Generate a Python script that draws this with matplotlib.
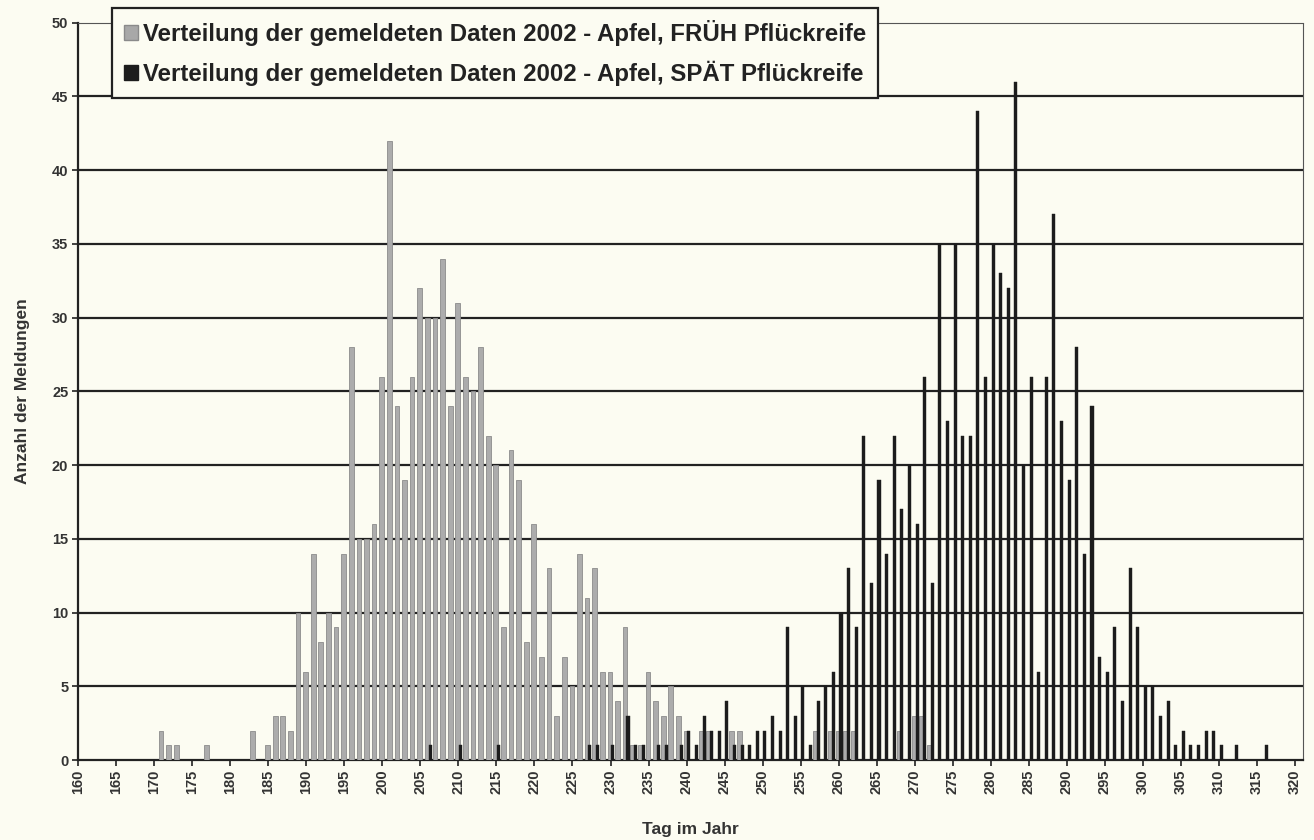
import matplotlib.pyplot as plt
from matplotlib.patches import Patch

# days and counts, early picking maturity (grey)
frueh_tage = [171, 172, 173, 177, 183, 185, 186, 187, 188, 189, 190, 191, 192, 193, 194,
              195, 196, 197, 198, 199, 200, 201, 202, 203, 204, 205, 206, 207, 208, 209,
              210, 211, 212, 213, 214, 215, 216, 217, 218, 219, 220, 221, 222, 223, 224,
              225, 226, 227, 228, 229, 230, 231, 232, 233, 234, 235, 236, 237, 238, 239,
              240, 242, 243, 246, 247, 257, 259, 260, 261, 262, 268, 270, 271, 272]
frueh_werte = [2, 1, 1, 1, 2, 1, 3, 3, 2, 10, 6, 14, 8, 10, 9,
               14, 28, 15, 15, 16, 26, 42, 24, 19, 26, 32, 30, 30, 34, 24,
               31, 26, 25, 28, 22, 20, 9, 21, 19, 8, 16, 7, 13, 3, 7,
               5, 14, 11, 13, 6, 6, 4, 9, 1, 1, 6, 4, 3, 5, 3,
               2, 2, 2, 2, 2, 2, 2, 2, 2, 2, 2, 3, 3, 1]

# days and counts, late picking maturity (black)
spaet_tage = [206, 210, 215, 227, 228, 230, 232, 233, 234, 236, 237, 239, 240, 241, 242,
              243, 244, 245, 246, 247, 248, 249, 250, 251, 252, 253, 254, 255, 256, 257,
              258, 259, 260, 261, 262, 263, 264, 265, 266, 267, 268, 269, 270, 271, 272,
              273, 274, 275, 276, 277, 278, 279, 280, 281, 282, 283, 284, 285, 286, 287,
              288, 289, 290, 291, 292, 293, 294, 295, 296, 297, 298, 299, 300, 301, 302,
              303, 304, 305, 306, 307, 308, 309, 310, 312, 316]
spaet_werte = [1, 1, 1, 1, 1, 1, 3, 1, 1, 1, 1, 1, 2, 1, 3,
               2, 2, 4, 1, 1, 1, 2, 2, 3, 2, 9, 3, 5, 1, 4,
               5, 6, 10, 13, 9, 22, 12, 19, 14, 22, 17, 20, 16, 26, 12,
               35, 23, 35, 22, 22, 44, 26, 35, 33, 32, 46, 20, 26, 6, 26,
               37, 23, 19, 28, 14, 24, 7, 6, 9, 4, 13, 9, 5, 5, 3,
               4, 1, 2, 1, 1, 2, 2, 1, 1, 1]

x_ticks = list(range(160, 321, 5))
y_ticks = list(range(0, 51, 5))

label_frueh = "Verteilung der gemeldeten Daten 2002 - Apfel, FRÜH Pflückreife"
label_spaet = "Verteilung der gemeldeten Daten 2002 - Apfel, SPÄT Pflückreife"

bg = "#fcfcf2"
schrift = ["Liberation Sans", "DejaVu Sans"]

fig = plt.figure(figsize=(13.14, 8.4), dpi=100, facecolor=bg)
ax = fig.add_axes([0.0594, 0.0952, 0.932, 0.8777])
ax.set_facecolor(bg)

ax.bar([d - 0.08 for d in frueh_tage], frueh_werte, width=0.62,
       color="#acacac", edgecolor="#8c8c8c", linewidth=0.6, zorder=3)
ax.bar([d + 0.3 for d in spaet_tage], spaet_werte, width=0.4,
       color="#1c1c1c", edgecolor="#1c1c1c", linewidth=0.3, zorder=4)

ax.set_xlim(160, 321)
ax.set_ylim(0, 50)
ax.set_xticks(x_ticks)
ax.set_yticks(y_ticks)
ax.set_xticklabels([str(t) for t in x_ticks], rotation=90, fontsize=10.5,
                   fontweight="bold", color="#333333", family=schrift)
ax.set_yticklabels([str(t) for t in y_ticks], fontsize=10.5,
                   fontweight="bold", color="#333333", family=schrift)
ax.tick_params(axis="both", length=4, width=1.2, color="#222222", pad=3)

for y in y_ticks[1:-1]:
    ax.axhline(y, color="#222222", linewidth=1.6, zorder=1)

ax.spines["left"].set_linewidth(1.6)
ax.spines["left"].set_color("#222222")
ax.spines["bottom"].set_linewidth(1.6)
ax.spines["bottom"].set_color("#222222")
ax.spines["top"].set_linestyle((0, (1, 1)))
ax.spines["right"].set_linestyle((0, (1, 1)))
ax.spines["top"].set_color("#555555")
ax.spines["right"].set_color("#555555")

ax.set_xlabel("Tag im Jahr", fontsize=12.5, fontweight="bold", family=schrift,
              color="#333333", labelpad=20)
ax.set_ylabel("Anzahl der Meldungen", fontsize=12.5, fontweight="bold", family=schrift,
              color="#333333", labelpad=16)

handles = [Patch(facecolor="#a8a8a8", edgecolor="#8a8a8a", label=label_frueh),
           Patch(facecolor="#1c1c1c", edgecolor="#1c1c1c", label=label_spaet)]
leg = fig.legend(handles=handles, loc="upper left", bbox_to_anchor=(0.0852, 0.9905),
                 borderaxespad=0,
                 prop={"family": schrift, "weight": "bold", "size": 17.3},
                 frameon=True, fancybox=False, handlelength=0.6, handleheight=0.6,
                 handletextpad=0.2, labelspacing=0.6, borderpad=0.5)
leg.get_frame().set_edgecolor("#222222")
leg.get_frame().set_linewidth(1.6)
leg.get_frame().set_facecolor(bg)
leg.get_frame().set_alpha(1)
for t in leg.get_texts():
    t.set_color("#222222")

plt.savefig("out.png", dpi=100, facecolor=bg)
